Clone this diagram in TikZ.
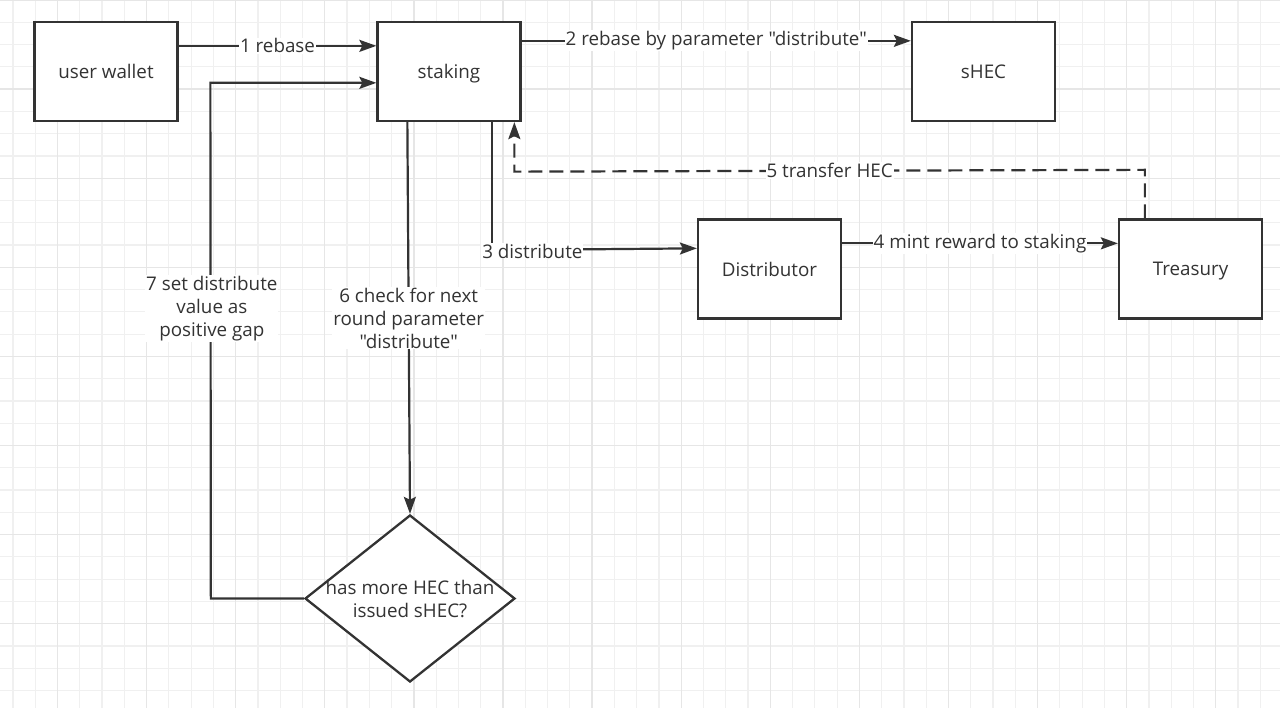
\documentclass[tikz,border=0pt]{standalone}
\usepackage{fontspec}
\newfontfamily\osans{Open Sans}
\usetikzlibrary{shapes.geometric,arrows.meta,calc}
\definecolor{ink}{HTML}{333333}
\definecolor{gridminor}{HTML}{F0F0F0}
\definecolor{gridmajor}{HTML}{E6E6E6}
\begin{document}
\begin{tikzpicture}[x=1pt,y=-1pt,
  box/.style={draw=ink, line width=2.3pt, fill=white, minimum width=143pt, minimum height=99pt, inner sep=0pt, font=\osans\fontsize{18.8}{23}\selectfont, text=ink, text depth=0pt, yshift=0pt},
  txt/.style={font=\osans\fontsize{18.8}{23}\selectfont, text=ink, align=center, inner sep=1pt},
  lbl/.style={txt, fill=white},
  arr/.style={draw=ink, line width=2.2pt, -{Stealth[length=17pt, width=12pt, inset=3pt]}},
  ln/.style={draw=ink, line width=2.2pt},
  dsh/.style={arr, dash pattern=on 14pt off 7pt}
]
\useasboundingbox (0,0) rectangle (1280,708);
\fill[white] (0,0) rectangle (1280,708);
% grid
\foreach \i in {-2,...,55} {
  \draw[gridminor, line width=1.2pt] ({57.5+22.275*\i},0) -- ({57.5+22.275*\i},708);
}
\foreach \j in {0,...,32} {
  \draw[gridminor, line width=1.2pt] (0,{22.275*\j}) -- (1280,{22.275*\j});
}
\foreach \i in {0,...,14} {
  \draw[gridmajor, line width=1.3pt] ({57.5+89.1*\i},0) -- ({57.5+89.1*\i},708);
}
\foreach \j in {0,...,8} {
  \draw[gridmajor, line width=1.3pt] (0,{89.1*\j}) -- (1280,{89.1*\j});
}
% nodes
\node[box] (wallet) at (106,71.5) {user wallet};
\node[box] (staking) at (449,71.5) {staking};
\node[box] (shec) at (983.5,71.5) {sHEC};
\node[box] (dist) at (769.5,269) {Distributor};
\node[box] (treas) at (1190.5,269) {Treasury};
\node[diamond, draw=ink, line width=2.3pt, fill=white, minimum width=210pt, minimum height=167pt, inner sep=0pt] (dec) at (410,598.5) {};
\node[txt] (dectext) at (dec.center) {has more HEC than\\issued sHEC?};
% coordinates
\coordinate (c3) at ($(staking.south west)+(116,128)$);
\coordinate (c5) at ($(staking.south west)+(138,49.5)$);
\coordinate (t5) at ($(treas.north west)+(27,-48.5)$);
\coordinate (c7a) at ($(dec.west)+(-93,0)$);
\coordinate (c7b) at ($(staking.north west)+(-166,62)$);
% edges
\draw[arr] ($(wallet.north east)+(0,25)$) -- node[lbl]{1 rebase} ($(staking.north west)+(0,25)$);
\draw[arr] ($(staking.north east)+(0,20)$) -- node[lbl]{2 rebase by parameter "distribute"} ($(shec.north west)+(0,20)$);
\draw[ln] ($(staking.south west)+(116,0)$) -- (c3);
\draw[arr] (c3) -- ($(dist.north west)+(0,30)$);
\node[lbl] at ($(c3)+(40,1)$) {3 distribute};
\draw[arr] ($(dist.north east)+(0,25)$) -- node[lbl]{4 mint reward to staking} ($(treas.north west)+(0,25)$);
\draw[dsh] ($(treas.north west)+(27,0)$) -- (t5) -- (c5) -- ($(staking.south west)+(138,0)$);
\node[lbl] at ($(c5)!0.5!(t5)$) {5 transfer HEC};
\draw[arr] ($(staking.south west)+(31,0)$) -- node[lbl, pos=0.5]{6 check for next\\round parameter\\"distribute"} (dec.north);
\draw[arr] (dec.west) -- (c7a) -- (c7b) -- ($(staking.north west)+(0,62)$);
\node[lbl] at ($(c7a)+(1,-290)$) {7 set distribute\\value as\\positive gap};
\end{tikzpicture}
\end{document}
